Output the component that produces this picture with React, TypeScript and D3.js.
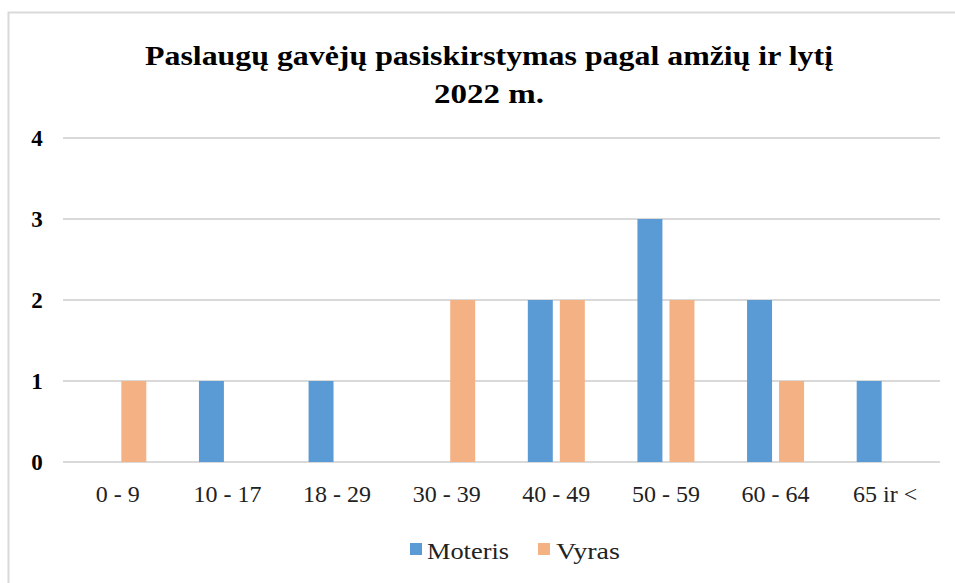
import React from "react";
import * as d3 from "d3";

const categories = ["0 - 9", "10 - 17", "18 - 29", "30 - 39", "40 - 49", "50 - 59", "60 - 64", "65 ir <"];
const moteris = [0, 1, 1, 0, 2, 3, 2, 1];
const vyras = [1, 0, 0, 2, 2, 2, 1, 0];
const yTicks = [0, 1, 2, 3, 4];
const seriesNames = ["Moteris", "Vyras"];
const colors = ["#5b9bd5", "#f4b183"];

export default function App() {
  const W = 955, H = 583;
  const left = 63, right = 940, top = 138, bottom = 462;
  const x = d3.scaleBand<string>().domain(categories).range([left, right]);
  const inner = d3.scaleBand<string>().domain(seriesNames).range([-28.5, 28.5]).paddingInner(0.22);
  const y = d3.scaleLinear().domain([0, 4]).range([bottom, top]);
  const series = [moteris, vyras];
  const font = "Liberation Serif, DejaVu Serif, serif";
  return (
    <svg width={W} height={H} style={{ position: "absolute", left: 0, top: 0, fontFamily: font }}>
      <rect x={0} y={0} width={W} height={H} fill="#fff" />
      <rect x={8.5} y={12.5} width={W + 10} height={H + 10} fill="#fff" stroke="#d9d9d9" strokeWidth={2} />
      <text x={489} y={65} textAnchor="middle" fontSize={28} fontWeight="bold" textLength={688} lengthAdjust="spacingAndGlyphs">Paslaugų gavėjų pasiskirstymas pagal amžių ir lytį</text>
      <text x={489} y={103} textAnchor="middle" fontSize={28} fontWeight="bold" textLength={110} lengthAdjust="spacingAndGlyphs">2022 m.</text>
      {yTicks.map(t => (
        <g key={t}>
          <line x1={left} x2={right} y1={y(t)} y2={y(t)} stroke="#d9d9d9" strokeWidth={2} />
          <text x={37} y={y(t) + 8} textAnchor="middle" fontSize={23} fontWeight="bold">{t}</text>
        </g>
      ))}
      {series.map((vals, si) =>
        categories.map((c, i) => {
          const v = vals[i];
          if (!v) return null;
          const cx = (x(c) as number) + x.bandwidth() / 2;
          return (
            <rect key={si + "-" + i}
              x={cx + (inner(seriesNames[si]) as number)}
              y={y(v)} width={inner.bandwidth()} height={y(0) - y(v)} fill={colors[si]} />
          );
        })
      )}
      {categories.map(c => (
        <text key={c} x={(x(c) as number) + x.bandwidth() / 2} y={502} textAnchor="middle" fontSize={24} fill="#222">{c}</text>
      ))}
      <rect x={410} y={543} width={12} height={12} fill={colors[0]} />
      <text x={427} y={559} fontSize={24} fill="#222" textLength={82} lengthAdjust="spacingAndGlyphs">Moteris</text>
      <rect x={538} y={543} width={12} height={12} fill={colors[1]} />
      <text x={556} y={559} fontSize={24} fill="#222" textLength={64} lengthAdjust="spacingAndGlyphs">Vyras</text>
    </svg>
  );
}
